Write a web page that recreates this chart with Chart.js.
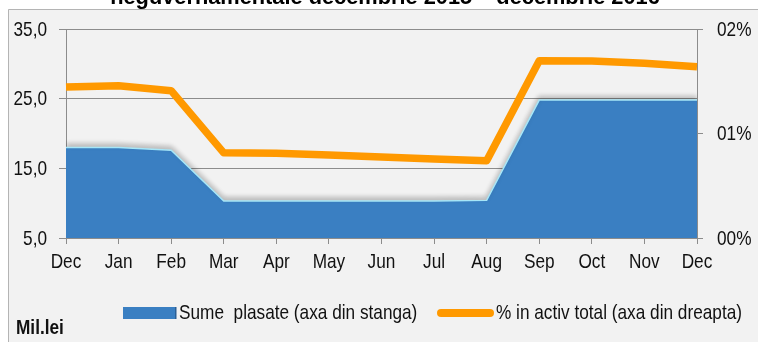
<!DOCTYPE html>
<html>
<head>
<meta charset="utf-8">
<script src="https://cdn.jsdelivr.net/npm/chart.js@4.4.1/dist/chart.umd.min.js"></script>
<style>
  html, body { margin: 0; padding: 0; background: #fff; }
  #wrap { width: 758px; height: 342px; }
</style>
</head>
<body>
<div id="wrap"><canvas id="plasamente" width="758" height="342"></canvas></div>
<script>
// lunile, sumele plasate (mil. lei) si ponderea in activul total
const months = ['Dec', 'Jan', 'Feb', 'Mar', 'Apr', 'May', 'Jun', 'Jul', 'Aug', 'Sep', 'Oct', 'Nov', 'Dec'];
const sumePlasate = [18.0, 18.0, 17.6, 10.3, 10.3, 10.3, 10.3, 10.3, 10.4, 24.8, 24.8, 24.8, 24.8];
const procentActiv = [0.01445, 0.01457, 0.0141, 0.00815, 0.0081, 0.00795, 0.00775, 0.00757, 0.0074, 0.01697, 0.01694, 0.01672, 0.01639];
const leftTicks = [5, 15, 25, 35];
const rightTicks = [0, 0.01, 0.02];

const FONT = "'Liberation Sans', Arial, sans-serif";
const NARROW = 0.82;   // litera ingusta, ca Arial Narrow
const GRID = '#8c8c8c';
const BLUE = '#3a7fc2';
const ORANGE = '#ff9900';

const fmtLeft = v => v.toFixed(1).replace('.', ',');
const fmtRight = v => String(Math.round(v * 100)).padStart(2, '0') + '%';

// scrie text comprimat pe orizontala
function narrowText(ctx, text, x, y, align, k) {
  ctx.save();
  ctx.translate(x, y);
  ctx.scale(k || NARROW, 1);
  ctx.textAlign = align || 'left';
  ctx.fillText(text, 0, 0);
  ctx.restore();
}

// fundal, titlu, etichete, legenda si umbra pentru suprafata
const decor = {
  id: 'decor',
  beforeDraw(chart) {
    const ctx = chart.ctx;
    ctx.save();
    ctx.fillStyle = '#fff';
    ctx.fillRect(0, 0, chart.width, chart.height);
    ctx.fillStyle = '#f2f2f2';
    ctx.fillRect(8, 9, chart.width, chart.height);
    ctx.strokeStyle = '#b4b4b4';
    ctx.lineWidth = 1;
    ctx.beginPath();
    ctx.moveTo(8.5, chart.height);
    ctx.lineTo(8.5, 9.5);
    ctx.lineTo(chart.width, 9.5);
    ctx.stroke();
    ctx.fillStyle = '#000';
    ctx.font = 'bold 22px ' + FONT;
    ctx.textBaseline = 'alphabetic';
    narrowText(ctx, 'neguvernamentale decembrie 2015 \u2013 decembrie 2016', 385, 4, 'center', 0.99);
    ctx.restore();
  },
  beforeDatasetsDraw(chart) {
    const ctx = chart.ctx;
    ctx.save();
    ctx.shadowColor = 'rgba(0,0,0,0.22)';
    ctx.shadowBlur = 5;
    ctx.shadowOffsetX = 0;
    ctx.shadowOffsetY = -3;
  },
  afterDatasetDraw(chart, args) {
    if (args.index === 0) chart.ctx.restore();
  },
  afterDraw(chart) {
    const ctx = chart.ctx;
    const ds = chart.data.datasets;
    const { x, y, y1 } = chart.scales;
    ctx.save();
    ctx.font = '21px ' + FONT;
    ctx.fillStyle = '#111';
    ctx.textBaseline = 'middle';
    leftTicks.forEach(v => narrowText(ctx, fmtLeft(v), 47, y.getPixelForValue(v) + 1, 'right'));
    rightTicks.forEach(v => narrowText(ctx, fmtRight(v), 717, y1.getPixelForValue(v) + 1, 'left'));
    ctx.textBaseline = 'alphabetic';
    months.forEach((m, i) => narrowText(ctx, m, x.getPixelForValue(i), 268, 'center'));

    // legenda
    ctx.fillStyle = ds[0].backgroundColor;
    ctx.fillRect(123, 307, 53, 12);
    ctx.fillStyle = '#2a5f95';
    ctx.fillRect(175, 307, 1.5, 12);
    ctx.fillStyle = '#111';
    narrowText(ctx, ds[0].label, 179, 319);
    ctx.strokeStyle = ds[1].borderColor;
    ctx.lineWidth = 8;
    ctx.lineCap = 'round';
    ctx.beginPath();
    ctx.moveTo(441, 313);
    ctx.lineTo(490, 313);
    ctx.stroke();
    narrowText(ctx, ds[1].label, 496, 319);
    ctx.font = 'bold 21px ' + FONT;
    narrowText(ctx, 'Mil.lei', 16, 334);
    ctx.restore();
  }
};

new Chart(document.getElementById('plasamente'), {
  type: 'line',
  data: {
    labels: months,
    datasets: [
      {
        label: 'Sume  plasate (axa din stanga)',
        data: sumePlasate,
        yAxisID: 'y',
        order: 1,
        fill: 'start',
        backgroundColor: BLUE,
        borderColor: '#a6e6f8',
        borderWidth: 1.5,
        pointRadius: 0,
        tension: 0
      },
      {
        label: '% in activ total (axa din dreapta)',
        data: procentActiv,
        yAxisID: 'y1',
        order: 0,
        fill: false,
        borderColor: ORANGE,
        borderWidth: 7.5,
        borderJoinStyle: 'round',
        pointRadius: 0,
        tension: 0
      }
    ]
  },
  options: {
    responsive: false,
    animation: false,
    layout: { padding: { top: 29, left: 0, right: 0, bottom: 0 } },
    plugins: {
      legend: { display: false },
      tooltip: { enabled: false }
    },
    scales: {
      x: {
        offset: false,
        afterFit: s => { s.height = 104; },
        grid: { drawOnChartArea: false, color: GRID, tickLength: 6 },
        border: { color: GRID },
        ticks: { display: false, autoSkip: false, maxRotation: 0 }
      },
      y: {
        position: 'left',
        min: 5,
        max: 35,
        afterBuildTicks: s => { s.ticks = leftTicks.map(v => ({ value: v })); },
        afterFit: s => { s.width = 66; },
        grid: { color: GRID, tickLength: 7 },
        border: { color: GRID },
        ticks: { display: false }
      },
      y1: {
        position: 'right',
        min: 0,
        max: 0.02,
        afterBuildTicks: s => { s.ticks = rightTicks.map(v => ({ value: v })); },
        afterFit: s => { s.width = 61; },
        grid: { drawOnChartArea: false, color: GRID, tickLength: 6 },
        border: { color: GRID },
        ticks: { display: false }
      }
    }
  },
  plugins: [decor]
});
</script>
</body>
</html>
